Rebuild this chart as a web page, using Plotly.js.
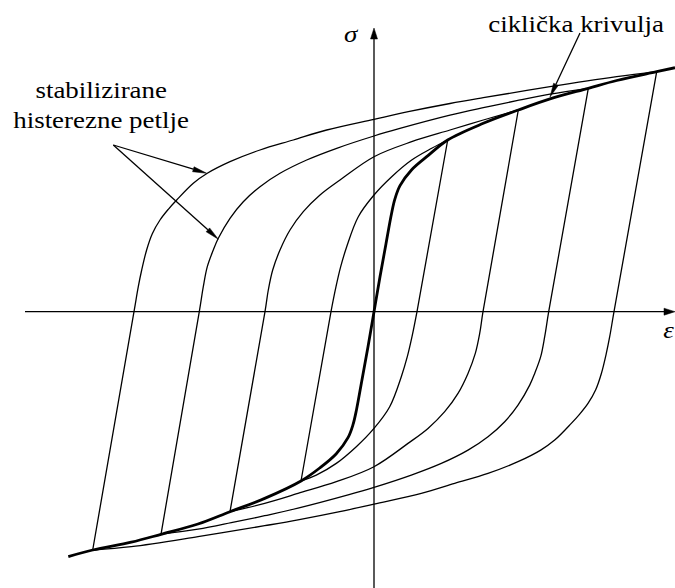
<!DOCTYPE html>
<html>
<head>
<meta charset="utf-8">
<script src="https://cdn.plot.ly/plotly-3.0.1.min.js"></script>
<style>
  html, body { margin: 0; padding: 0; background: #fff; }
  #chart { width: 675px; height: 588px; }
</style>
</head>
<body>
<div id="chart"></div>
<script>
// ---- Data (strain eps / stress sigma, arbitrary units) ----
// Loop 1 (smallest)
const loop1AscEps  = [-73, -43, -38, -33.3, -27.3, -15.7, 0, 17.7, 37.7, 57.7, 73.7];
const loop1AscSig  = [-169.3, 0, 25, 45, 65, 95, 116.7, 135, 151.7, 163.4, 171.7];
const loop1DescEps = [73.7, 43, 38, 33.3, 27.3, 15.7, 0, -17.7, -37.7, -57.7, -73];
const loop1DescSig = [171.7, 0, -25, -45, -65, -95, -116.7, -135, -151.7, -163.4, -169.3];
// Loop 2
const loop2AscEps  = [-144, -109, -105.7, -101.3, -94, -84, -70.7, -54, -34, 0, 37.7, 76, 109.3, 144.3];
const loop2AscSig  = [-200, 0, 21.7, 41.7, 61.7, 81.7, 100, 116.7, 131.7, 155, 170, 181.7, 191.7, 201.7];
const loop2DescEps = [144.3, 109, 105.7, 101.3, 94, 84, 70.7, 54, 34, 0, -37.7, -76, -109.3, -144];
const loop2DescSig = [201.7, 0, -21.7, -41.7, -61.7, -81.7, -100, -116.7, -131.7, -155, -170, -181.7, -191.7, -200];
// Loop 3
const loop3AscEps  = [-213, -174.7, -170.7, -166.7, -160.7, -155.7, -144, -130.7, -114, -94, -67.3, -37.3, 0, 25, 76, 109.3, 142.7, 176, 214.3];
const loop3AscSig  = [-222.6, 0, 25, 45, 61.7, 73.4, 93.4, 110, 125, 138.4, 151.7, 163.4, 175.7, 183, 196.5, 204, 211, 217.5, 223.4];
const loop3DescEps = [214.3, 174.7, 170.7, 166.7, 160.7, 155.7, 144, 130.7, 114, 94, 67.3, 37.3, 0, -25, -76, -109.3, -142.7, -176, -213];
const loop3DescSig = [223.4, 0, -25, -45, -61.7, -73.4, -93.4, -110, -125, -138.4, -151.7, -163.4, -175.7, -183, -196.5, -204, -211, -217.5, -222.6];
// Loop 4 (largest)
const loop4AscEps  = [-281.3, -240, -235.7, -232.3, -227.3, -221.7, -214, -205.7, -197.3, -180.7, -166.7, -144, -114, -80.7, -47.3, 0, 34.3, 76, 109.3, 176, 242.7, 282.7];
const loop4AscSig  = [-238.3, 0, 25, 41.7, 62, 78, 91.7, 102.4, 111.7, 128.4, 138.4, 150, 161.7, 171.7, 181.7, 192.4, 200, 208.2, 214, 225, 235, 240];
const loop4DescEps = [282.7, 240, 235.7, 232.3, 227.3, 221.7, 214, 205.7, 197.3, 180.7, 166.7, 144, 114, 80.7, 47.3, 0, -34.3, -76, -109.3, -176, -242.7, -281.3];
const loop4DescSig = [240, 0, -25, -41.7, -62, -78, -91.7, -102.4, -111.7, -128.4, -138.4, -150, -161.7, -171.7, -181.7, -192.4, -200, -208.2, -214, -225, -235, -238.3];
// Cyclic stress-strain curve (thick)
const cyclicEps = [-305.7, -281.3, -242.7, -213, -176, -144, -109.3, -73, -54.3, -37.7, -26, -21, -17.5, -12, -6, 0, 6, 12, 17.5, 21, 26, 37.7, 54.3, 73.7, 109.3, 144.3, 176, 214.3, 242.7, 282.7, 301];
const cyclicSig = [-245, -238.3, -230.5, -222.6, -212.3, -200, -186.7, -169.3, -156.3, -142, -126, -113, -98, -68, -35, 0, 35, 68, 98, 113, 126, 142, 156.3, 171.7, 188.4, 201.7, 212.8, 223.4, 231.2, 240, 244];

// Text labels
const labelCyclic = 'ciklička krivulja';
const labelLoops1 = 'stabilizirane';
const labelLoops2 = 'histerezne petlje';
const labelSigma = 'σ';
const labelEps = 'ε';

// ---- Styling ----
const thin = { color: '#000', width: 1.3, shape: 'spline', smoothing: 1 };
const thick = { color: '#000', width: 2.8, shape: 'spline', smoothing: 1 };

function branch(x, y, line) {
  return { x: x, y: y, type: 'scatter', mode: 'lines', line: line, hoverinfo: 'skip' };
}

const traces = [
  branch(loop4AscEps, loop4AscSig, thin),
  branch(loop4DescEps, loop4DescSig, thin),
  branch(loop3AscEps, loop3AscSig, thin),
  branch(loop3DescEps, loop3DescSig, thin),
  branch(loop2AscEps, loop2AscSig, thin),
  branch(loop2DescEps, loop2DescSig, thin),
  branch(loop1AscEps, loop1AscSig, thin),
  branch(loop1DescEps, loop1DescSig, thin),
  branch(cyclicEps, cyclicSig, thick)
];

// arrow = line + filled triangular head (layout decoration)
function arrow(x0, y0, x1, y1, len, hw, w) {
  const dx = x1 - x0, dy = y1 - y0, L = Math.hypot(dx, dy);
  const ux = dx / L, uy = dy / L, px = -uy, py = ux;
  const bx = x1 - ux * len, by = y1 - uy * len;
  return [
    { type: 'line', xref: 'x', yref: 'y', x0: x0, y0: y0, x1: bx, y1: by,
      line: { color: '#000', width: w } },
    { type: 'path', xref: 'x', yref: 'y',
      path: 'M' + x1 + ',' + y1 + ' L' + (bx + px * hw) + ',' + (by + py * hw) +
            ' L' + (bx - px * hw) + ',' + (by - py * hw) + ' Z',
      fillcolor: '#000', line: { color: '#000', width: 0.5 } }
  ];
}

const shapes = [].concat(
  arrow(-349, 0, 301, 0, 11, 3.5, 1.3),        // eps axis
  arrow(0, -276.3, 0, 283.7, 11, 3.5, 1.3),    // sigma axis
  arrow(-260.7, 166.7, -167.3, 138.4, 14, 2.6, 1.3),
  arrow(-260.7, 166.7, -155.7, 72.5, 14, 2.6, 1.3),
  arrow(206, 278.7, 176, 214.7, 14, 2.6, 1.3)
);

const serif = { family: 'Liberation Serif', size: 23, color: '#000' };
function label(text, x, y, extra) {
  return Object.assign({ text: text, x: x, y: y, xref: 'x', yref: 'y', showarrow: false,
    xanchor: 'center', yanchor: 'middle', font: serif }, extra || {});
}
const italic = Object.assign({}, serif, { style: 'italic' });
const annotations = [
  label(labelCyclic, 201.5, 287.4),
  label(labelLoops1, -273.5, 221.4),
  label(labelLoops2, -273.5, 191.4),
  label(labelSigma, -22.5, 277.4, { font: italic }),
  label(labelEps, 295, -18.6, { font: italic })
];

const layout = {
  width: 675, height: 588,
  margin: { l: 0, r: 0, t: 0, b: 0, pad: 0 },
  paper_bgcolor: '#fff', plot_bgcolor: '#fff',
  showlegend: false,
  xaxis: { range: [-374, 301], visible: false, fixedrange: true },
  yaxis: { range: [-276.3, 311.7], visible: false, fixedrange: true },
  shapes: shapes,
  annotations: annotations
};

Plotly.newPlot('chart', traces, layout, { staticPlot: true, displayModeBar: false }).then(function (gd) {
  // the reference lettering is horizontally widened
  gd.querySelectorAll('.annotation-text').forEach(function (t) {
    const w = t.getComputedTextLength();
    t.setAttribute('textLength', (w * 1.17).toFixed(1));
    t.setAttribute('lengthAdjust', 'spacingAndGlyphs');
  });
});
</script>
</body>
</html>
